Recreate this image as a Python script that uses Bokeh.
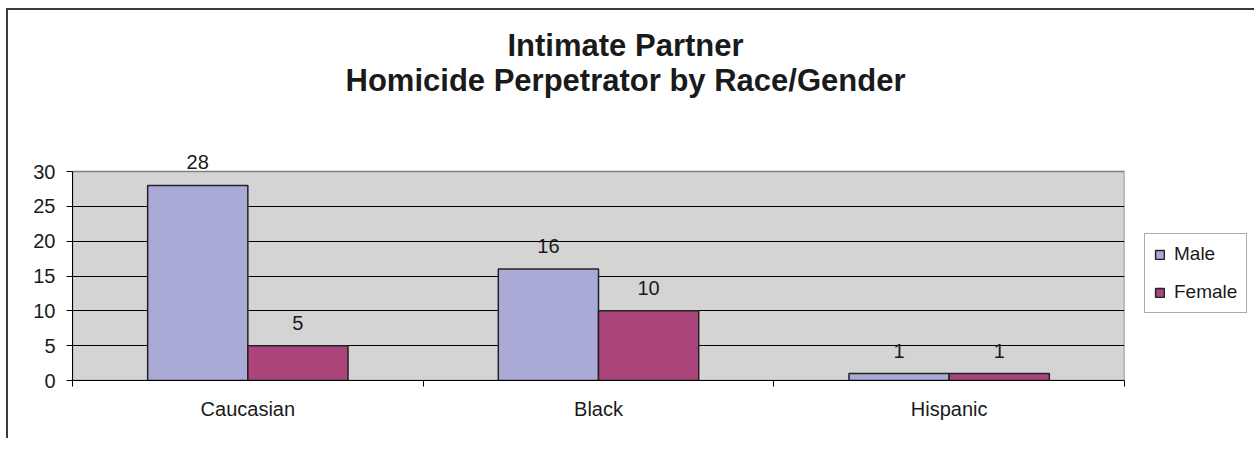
from bokeh.plotting import figure
from bokeh.models import (ColumnDataSource, Range1d, FixedTicker, Legend, LegendItem,
                          LabelSet, Label)
from bokeh.transform import dodge
from bokeh.core.properties import value
from bokeh.embed import file_html
from bokeh.resources import INLINE

# ---- data ----
categories = ["Caucasian", "Black", "Hispanic"]
male = [28, 16, 1]
female = [5, 10, 1]
series_names = ["Male", "Female"]
y_ticks = [0, 5, 10, 15, 20, 25, 30]
title_lines = ["Intimate Partner", "Homicide Perpetrator by Race/Gender"]

# ---- style ----
FONT = "Liberation Sans"
MALE_C = "#AAAAD6"
FEMALE_C = "#AA447B"
BG = "#D4D4D4"
TXT = "#1a1a1a"
BAR_W = 0.2857

PLOT_H = 209          # pixel height of the grey plot area (0..30)
FRAME_H = 370         # frame reaches up to the top of the canvas (room for title / labels)
y_top = y_ticks[-1] * FRAME_H / PLOT_H

centers = [i + 0.5 for i in range(len(categories))]
src = ColumnDataSource(dict(
    x=centers, male=male, female=female,
    male_txt=[str(v) for v in male], female_txt=[str(v) for v in female],
))

p = figure(frame_width=1052, frame_height=FRAME_H,
           min_border_left=64, min_border_right=128,
           min_border_top=0, min_border_bottom=58,
           x_range=Range1d(0, len(categories)), y_range=Range1d(y_ticks[0], y_top),
           output_backend="svg", toolbar_location=None)
p.styles = {"border-left": "2px solid #3a3a3a", "border-top": "2px solid #3a3a3a",
            "margin-left": "6px", "margin-top": "8px"}
p.background_fill_color = "white"
p.border_fill_color = "white"
p.outline_line_color = None

# grey plot area
p.quad(left=[0], right=[len(categories)], bottom=[y_ticks[0]], top=[y_ticks[-1]],
       fill_color=BG, line_color="#808080", line_width=1.5, level="image")

r_m = p.vbar(x=dodge("x", -BAR_W / 2, range=p.x_range), top="male", width=BAR_W,
             source=src, fill_color=MALE_C, line_color="#222222", line_width=1.5)
r_f = p.vbar(x=dodge("x", BAR_W / 2, range=p.x_range), top="female", width=BAR_W,
             source=src, fill_color=FEMALE_C, line_color="#222222", line_width=1.5)

for fld, txt, off in [("male", "male_txt", -BAR_W / 2), ("female", "female_txt", BAR_W / 2)]:
    ls = LabelSet(x=dodge("x", off, range=p.x_range), y=fld, text=txt, source=src,
                  y_offset=23, text_align="center", text_baseline="middle",
                  text_font=value(FONT), text_font_size=value("20px"), text_color=TXT)
    p.add_layout(ls)

# axes
p.yaxis.ticker = FixedTicker(ticks=y_ticks)
p.yaxis.bounds = (y_ticks[0], y_ticks[-1])
p.yaxis.major_tick_out = 6
p.yaxis.major_tick_in = 0
p.yaxis.minor_tick_line_color = None
p.yaxis.axis_line_color = "black"
p.yaxis.major_tick_line_color = "black"
p.yaxis.major_label_standoff = 11
p.yaxis.major_label_text_font = FONT
p.yaxis.major_label_text_font_size = "20px"
p.yaxis.major_label_text_color = TXT

p.xaxis.ticker = FixedTicker(ticks=centers, minor_ticks=list(range(len(categories) + 1)))
p.xaxis.major_label_overrides = {c: name for c, name in zip(centers, categories)}
p.xaxis.major_tick_line_color = None
p.xaxis.minor_tick_out = 6
p.xaxis.minor_tick_in = 0
p.xaxis.minor_tick_line_color = "black"
p.xaxis.axis_line_color = "black"
p.xaxis.major_label_standoff = 11
p.xaxis.major_label_text_font = FONT
p.xaxis.major_label_text_font_size = "20px"
p.xaxis.major_label_text_color = TXT

p.xgrid.grid_line_color = None
p.ygrid.ticker = FixedTicker(ticks=y_ticks[1:-1])
p.ygrid.grid_line_color = "black"
p.ygrid.grid_line_width = 1

# title (two lines)
for yy, t in [(FRAME_H - 35, title_lines[0]), (FRAME_H - 70, title_lines[1])]:
    p.add_layout(Label(x=553, y=yy, x_units="screen", y_units="screen", text=t,
                       text_align="center", text_baseline="middle",
                       text_font=FONT, text_font_style="bold", text_font_size="31px",
                       text_color=TXT))

legend = Legend(items=[LegendItem(label=series_names[0], renderers=[r_m]),
                       LegendItem(label=series_names[1], renderers=[r_f])],
                location=(20, 67), margin=0, padding=9,
                glyph_width=11, glyph_height=11, label_standoff=9,
                spacing=16, label_height=20,
                label_text_font=FONT, label_text_font_size="19px", label_text_color=TXT,
                border_line_color="#555555", border_line_width=1,
                background_fill_color="white", background_fill_alpha=1)
p.add_layout(legend, "right")

open("out.html", "w").write(file_html(p, INLINE))
